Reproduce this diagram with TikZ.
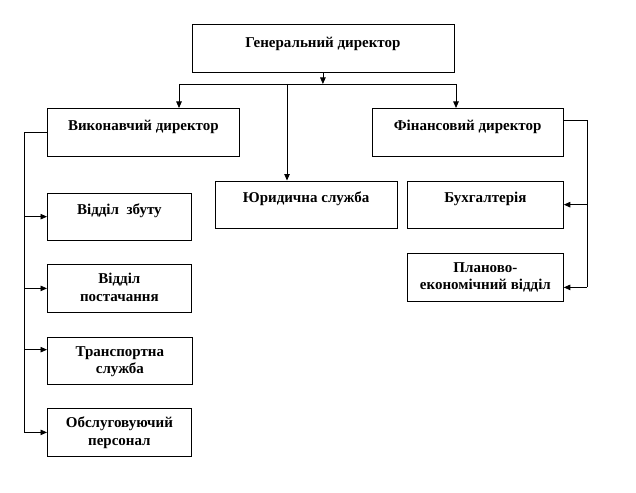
\documentclass[tikz,border=0pt]{standalone}
\usepackage{fontspec}
\setmainfont{Liberation Serif}
\usetikzlibrary{positioning,arrows.meta}

\tikzset{
  box/.style={draw, line width=0.8pt, rectangle, inner sep=0pt, anchor=north west},
  txt/.style={inner sep=0pt, align=center, font=\fontsize{15}{17.5}\selectfont\bfseries},
  arr/.style={-{Triangle[length=6.5pt,width=5.5pt]}},
}

\begin{document}
\begin{tikzpicture}[x=1pt, y=-1pt, line width=0.8pt]
  \useasboundingbox (0,0) rectangle (636,492);

  % Boxes
  \node[box, minimum width=262pt, minimum height=48pt] (gen) at (191.5,24.5) {};
  \node[box, minimum width=192pt, minimum height=48pt] (vyk) at (47,108) {};
  \node[box, minimum width=191.5pt, minimum height=48pt] (fin) at (371.5,108) {};
  \node[box, minimum width=181.5pt, minimum height=47.5pt] (yur) at (215,180.5) {};
  \node[box, minimum width=156pt, minimum height=47.5pt] (bukh) at (407,180.5) {};
  \node[box, minimum width=156pt, minimum height=48pt] (plan) at (407,252.5) {};
  \node[box, minimum width=144pt, minimum height=47.5pt] (zbut) at (47,192.5) {};
  \node[box, minimum width=144pt, minimum height=48pt] (post) at (47,264) {};
  \node[box, minimum width=145pt, minimum height=47.5pt] (trans) at (47,336.5) {};
  \node[box, minimum width=144pt, minimum height=48pt] (obsl) at (47,408) {};

  % Texts
  \node[txt, below=10pt of gen.north] (gen-t) {\strut Генеральний директор};
  \node[txt, below=9.5pt of vyk.north] (vyk-t) {\strut Виконавчий директор};
  \node[txt, below=9.5pt of fin.north] (fin-t) {\strut Фінансовий директор};
  \node[txt, below=9pt of yur.north] (yur-t) {\strut Юридична служба};
  \node[txt, below=9pt of bukh.north] (bukh-t) {\strut Бухгалтерія};
  \node[txt, below=7pt of plan.north] (plan-t) {\strut Планово-\\\strut економічний відділ};
  \node[txt, below=9.5pt of zbut.north] (zbut-t) {\strut Відділ\ \ збуту};
  \node[txt, below=7pt of post.north] (post-t) {\strut Відділ\\\strut постачання};
  \node[txt, below=7pt of trans.north] (trans-t) {\strut Транспортна\\\strut служба};
  \node[txt, below=7pt of obsl.north] (obsl-t) {\strut Обслуговуючий\\\strut персонал};

  % Upper bus
  \coordinate (busl) at (179,84);
  \coordinate (busm) at (287,84);
  \coordinate (busr) at (456,84);
  \draw (busl) -- (busr);
  \draw[arr] (gen.south) -- (gen.south |- busl);
  \draw[arr] (busl) -- (busl |- vyk.north);
  \draw[arr] (busm) -- (busm |- yur.north);
  \draw[arr] (busr) -- (busr |- fin.north);

  % Left spine
  \coordinate (lsp) at (24,0);
  \draw (vyk.west) -- (vyk.west -| lsp) -- (obsl.west -| lsp);
  \foreach \b in {zbut,post,obsl}
    \draw[arr] (\b.west -| lsp) -- (\b.west);
  \draw[arr] ([yshift=11pt]trans.west -| lsp) -- ([yshift=11pt]trans.west);

  % Right spine
  \coordinate (rsp) at (587,0);
  \draw ([yshift=12pt]fin.east) -- ([yshift=12pt]fin.east -| rsp)
    -- ([yshift=-10.5pt]plan.east -| rsp);
  \draw[arr] (bukh.east -| rsp) -- (bukh.east);
  \draw[arr] ([yshift=-10.5pt]plan.east -| rsp) -- ([yshift=-10.5pt]plan.east);
\end{tikzpicture}
\end{document}
